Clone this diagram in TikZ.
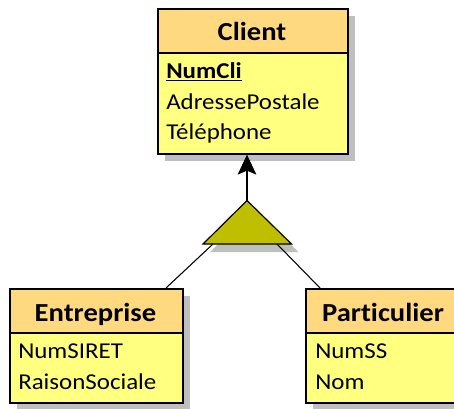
\documentclass[tikz,border=0pt]{standalone}
\usepackage{fontspec}
\setmainfont{Carlito}[FakeStretch=1.1, Ligatures={NoCommon}]
\usetikzlibrary{arrows.meta}
\definecolor{hdr}{HTML}{FFD97F}
\definecolor{bdy}{HTML}{FFFF80}
\definecolor{shd}{HTML}{BFBFBF}
\definecolor{tri}{HTML}{BFBF00}
\def\pxu{0.75pt}
\tikzset{
  hdrbox/.style={draw=black, line width=1.2pt, fill=hdr, anchor=north west, inner sep=0pt},
  bdybox/.style={draw=black, line width=1.2pt, fill=bdy, anchor=north west, inner sep=0pt},
  shadowbox/.style={fill=shd, draw=none},
  titletext/.style={font=\fontsize{19.5}{22}\selectfont\bfseries, anchor=base, inner sep=0pt},
  attrtext/.style={font=\fontsize{17}{19}\selectfont, anchor=base west, inner sep=0pt},
  link/.style={draw=black, line width=0.8pt},
}
\begin{document}
\begin{tikzpicture}[x=0.75pt,y=-0.75pt]
\useasboundingbox (0,0) rectangle (454,408);
\fill[white] (0,0) rectangle (454,408);
% shadows
\fill[shadowbox] (165,16) rectangle (355,161);
\fill[shadowbox] (17,296) rectangle (190,410);
\fill[shadowbox] (313,296) rectangle (470,410);
\fill[shadowbox] (254,208.5) -- (298.5,252) -- (210,252) -- cycle;
% Client
\node[bdybox, minimum width=190*\pxu, minimum height=101*\pxu] (clientbody) at (157,52) {};
\node[hdrbox, minimum width=190*\pxu, minimum height=44*\pxu] (client) at (157,8) {};
\node[titletext] (clienttitle) at (252,40) {Client};
\node[attrtext] (numcli) at (166,78) {\textbf{\underline{NumCli}}};
\node[attrtext] (adresse) at (166,109) {AdressePostale};
\node[attrtext] (tel) at (166,139) {Téléphone};
% Entreprise
\node[bdybox, minimum width=173*\pxu, minimum height=70*\pxu] (entbody) at (9,332) {};
\node[hdrbox, minimum width=173*\pxu, minimum height=44*\pxu] (ent) at (9,288) {};
\node[titletext] (enttitle) at (95.5,321) {Entreprise};
\node[attrtext] (siret) at (18,358) {NumSIRET};
\node[attrtext] (raison) at (18,389) {RaisonSociale};
% Particulier
\node[bdybox, minimum width=156*\pxu, minimum height=70*\pxu] (partbody) at (305,332) {};
\node[hdrbox, minimum width=156*\pxu, minimum height=44*\pxu] (part) at (305,288) {};
\node[titletext] (parttitle) at (383,321) {Particulier};
\node[attrtext] (numss) at (315,358) {NumSS};
\node[attrtext] (nom) at (315,389) {Nom};
% triangle
\coordinate (apex) at (247,200.5);
\coordinate (bl) at (203,244);
\coordinate (br) at (291.5,244);
\coordinate (tl) at (213,244);
\coordinate (tr) at (277,244);
\coordinate (entin) at (166,288);
\coordinate (partin) at (320,288);
\coordinate (arrtip) at (apex |- clientbody.south);
\draw[line width=0.9pt, fill=tri] (apex) -- (bl) -- (br) -- cycle;
\draw[link] (tl) -- (entin);
\draw[link] (tr) -- (partin);
\draw[link, -{Stealth[length=15pt,width=14pt,inset=3pt]}] (apex) -- (arrtip);
\end{tikzpicture}
\end{document}
